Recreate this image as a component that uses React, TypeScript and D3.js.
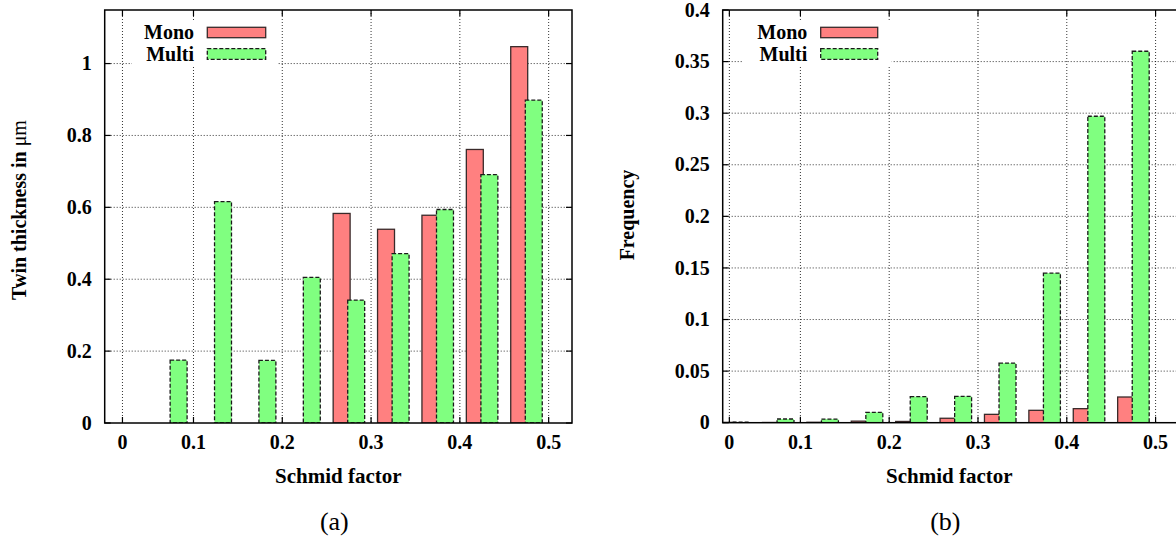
import React from "react";
import * as d3 from "d3";

// ---- data ----
const binCenters = [0.025, 0.075, 0.125, 0.175, 0.225, 0.275, 0.325, 0.375, 0.425, 0.475];
const thicknessMono: (number | null)[] = [null, null, null, null, null, 0.583, 0.539, 0.578, 0.761, 1.047];
const thicknessMulti: (number | null)[] = [null, 0.175, 0.616, 0.174, 0.405, 0.342, 0.471, 0.594, 0.691, 0.898];
const freqMono: (number | null)[] = [0.0003, 0.0002, 0.0004, 0.0015, 0.0012, 0.0043, 0.0081, 0.012, 0.0136, 0.0249];
const freqMulti: (number | null)[] = [0.0005, 0.0036, 0.0035, 0.0101, 0.0252, 0.0256, 0.0578, 0.145, 0.297, 0.36];

const xTickPositions = [0.02, 0.1, 0.2, 0.3, 0.4, 0.5];
const xTickLabels = ["0", "0.1", "0.2", "0.3", "0.4", "0.5"];
const thicknessTicks = [0, 0.2, 0.4, 0.6, 0.8, 1];
const thicknessTickLabels = ["0", "0.2", "0.4", "0.6", "0.8", "1"];
const freqTicks = [0, 0.05, 0.1, 0.15, 0.2, 0.25, 0.3, 0.35, 0.4];
const freqTickLabels = ["0", "0.05", "0.1", "0.15", "0.2", "0.25", "0.3", "0.35", "0.4"];
const seriesNames = ["Mono", "Multi"];

// ---- styles ----
const FONT = "'Liberation Serif', 'Times New Roman', serif";
const MONO_FILL = "#ff8080";
const MULTI_FILL = "#80ff80";
const BAR_W = 0.0191;
const MONO_OFF = -0.0177;
const MULTI_OFF = -0.0013;

type PanelProps = {
  left: number;
  right: number;
  top: number;
  bottom: number;
  xDomain: [number, number];
  yDomain: [number, number];
  mono: (number | null)[];
  multi: (number | null)[];
  yTicks: number[];
  yTickLabels: string[];
  yLabel: React.ReactNode;
  yLabelX: number;
  yLabelY: number;
  legend: { bgX0: number; bgX1: number; textRight: number; swX0: number; swX1: number };
  caption: string;
  clipId: string;
};

function Panel(p: PanelProps) {
  const x = d3.scaleLinear().domain(p.xDomain).range([p.left, p.right]);
  const y = d3.scaleLinear().domain(p.yDomain).range([p.bottom, p.top]);
  const tickLen = 6;
  const plotCenterX = (p.left + Math.min(p.right, 1176)) / 2;
  const bars = (vals: (number | null)[], off: number, fill: string, dashed: boolean) =>
    vals.map((v, i) =>
      v == null ? null : (
        <rect
          key={i}
          x={x(binCenters[i] + off)}
          y={y(v)}
          width={x(binCenters[i] + off + BAR_W) - x(binCenters[i] + off)}
          height={y(0) - y(v)}
          fill={fill}
          stroke={dashed ? "#1a1a1a" : "#3a2a2a"}
          strokeWidth={1.3}
          strokeDasharray={dashed ? "4,2" : undefined}
        />
      )
    );
  return (
    <g>
      <defs>
        <clipPath id={p.clipId}>
          <rect x={p.left} y={p.top} width={p.right - p.left} height={p.bottom - p.top} />
        </clipPath>
      </defs>
      {/* grid */}
      <g stroke="#000" strokeWidth={0.8} strokeDasharray="1,2">
        {xTickPositions.map((t, i) => (
          <line key={"gx" + i} x1={x(t)} x2={x(t)} y1={p.top} y2={p.bottom} />
        ))}
        {p.yTicks.map((t, i) =>
          i === 0 || (i === p.yTicks.length - 1 && y(t) <= p.top + 0.5) ? null : (
            <line key={"gy" + i} x1={p.left} x2={p.right} y1={y(t)} y2={y(t)} />
          )
        )}
      </g>
      {/* legend background */}
      <rect x={p.legend.bgX0} y={20} width={p.legend.bgX1 - p.legend.bgX0} height={46} fill="#fff" />
      {/* bars */}
      <g clipPath={`url(#${p.clipId})`}>
        {bars(p.mono, MONO_OFF, MONO_FILL, false)}
        {bars(p.multi, MULTI_OFF, MULTI_FILL, true)}
      </g>
      {/* ticks */}
      <g stroke="#000" strokeWidth={1.2}>
        {xTickPositions.map((t, i) => (
          <g key={"tx" + i}>
            <line x1={x(t)} x2={x(t)} y1={p.bottom} y2={p.bottom - tickLen} />
            <line x1={x(t)} x2={x(t)} y1={p.top} y2={p.top + tickLen} />
          </g>
        ))}
        {p.yTicks.map((t, i) => (
          <g key={"ty" + i}>
            <line x1={p.left} x2={p.left + tickLen} y1={y(t)} y2={y(t)} />
            <line x1={p.right} x2={p.right - tickLen} y1={y(t)} y2={y(t)} />
          </g>
        ))}
      </g>
      {/* frame */}
      <rect x={p.left} y={p.top} width={p.right - p.left} height={p.bottom - p.top} fill="none" stroke="#000" strokeWidth={1.5} />
      {/* tick labels */}
      <g fontFamily={FONT} fontWeight="bold" fontSize={20} fill="#000">
        {xTickPositions.map((t, i) => (
          <text key={"lx" + i} x={x(t)} y={449} textAnchor="middle">
            {xTickLabels[i]}
          </text>
        ))}
        {p.yTicks.map((t, i) => (
          <text key={"ly" + i} x={p.left - 13} y={y(t)} dy="0.33em" textAnchor="end">
            {p.yTickLabels[i]}
          </text>
        ))}
        <text x={plotCenterX} y={483} textAnchor="middle" fontSize={21}>Schmid factor</text>
        <text transform={`translate(${p.yLabelX},${p.yLabelY}) rotate(-90)`} textAnchor="middle" dy="0.35em">
          {p.yLabel}
        </text>
        {/* legend */}
        <text x={p.legend.textRight} y={39} textAnchor="end">{seriesNames[0]}</text>
        <text x={p.legend.textRight} y={61} textAnchor="end">{seriesNames[1]}</text>
      </g>
      <rect x={p.legend.swX0} y={27.3} width={p.legend.swX1 - p.legend.swX0} height={10.4} fill={MONO_FILL} stroke="#3a2a2a" strokeWidth={1.3} />
      <rect x={p.legend.swX0} y={48.7} width={p.legend.swX1 - p.legend.swX0} height={10.6} fill={MULTI_FILL} stroke="#1a1a1a" strokeWidth={1.3} strokeDasharray="4,2" />
      <text x={plotCenterX - 4} y={530} textAnchor="middle" fontFamily={FONT} fontSize={26} fill="#000">
        {p.caption}
      </text>
    </g>
  );
}

export default function App() {
  return (
    <svg width={1176} height={543} style={{ position: "absolute", left: 0, top: 0, background: "#fff" }}>
      <rect width={1176} height={543} fill="#fff" />
      <Panel
        left={104.7}
        right={572}
        top={10}
        bottom={423}
        xDomain={[0, 0.5263]}
        yDomain={[0, 1.149]}
        mono={thicknessMono}
        multi={thicknessMulti}
        yTicks={thicknessTicks}
        yTickLabels={thicknessTickLabels}
        yLabel={
          <>
            Twin thickness in <tspan fontWeight="normal">μm</tspan>
          </>
        }
        yLabelX={19}
        yLabelY={210}
        legend={{ bgX0: 132, bgX1: 278, textRight: 194, swX0: 207.3, swX1: 265.7 }}
        caption="(a)"
        clipId="clipA"
      />
      <Panel
        left={722.7}
        right={1189.5}
        top={10}
        bottom={422.7}
        xDomain={[0.0125, 0.5382]}
        yDomain={[0, 0.4]}
        mono={freqMono}
        multi={freqMulti}
        yTicks={freqTicks}
        yTickLabels={freqTickLabels}
        yLabel="Frequency"
        yLabelX={627}
        yLabelY={215}
        legend={{ bgX0: 743, bgX1: 891.7, textRight: 807.3, swX0: 820.7, swX1: 877.7 }}
        caption="(b)"
        clipId="clipB"
      />
    </svg>
  );
}
